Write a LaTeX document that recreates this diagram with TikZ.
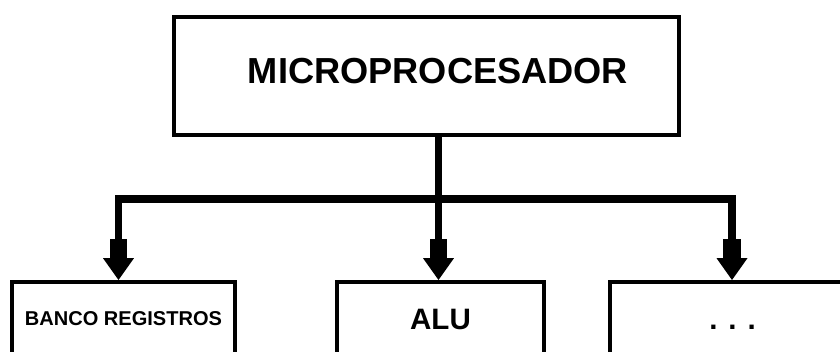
\documentclass[tikz,border=0pt]{standalone}
\usepackage{fontspec}
\setmainfont{Liberation Sans}
\usetikzlibrary{arrows.meta}

\begin{document}
\begin{tikzpicture}[
    caja/.style={draw,line width=1.15pt,inner sep=0pt,minimum height=0.74cm},
    bus/.style={line width=2pt},
    punta/.style={-{Rectangle[length=5.4pt,width=4.9pt,sep=0pt,line width=0pt]Triangle[length=6.2pt,width=8.8pt,line width=0pt]}},
    puntas/.style={{Triangle[length=6.2pt,width=8.8pt,line width=0pt]Rectangle[length=5.4pt,width=4.9pt,sep=0pt,line width=0pt]}-{Rectangle[length=5.4pt,width=4.9pt,sep=0pt,line width=0pt]Triangle[length=6.2pt,width=8.8pt,line width=0pt]}}
  ]
  \useasboundingbox (0,0) rectangle (8.4,3.51);
  \node[caja,minimum width=5.05cm,minimum height=1.18cm] (micro) at (4.265,2.75){};
  \node[font=\bfseries\fontsize{10.3}{12}\selectfont] (tmicro) at (4.38,2.795){MICROPROCESADOR};
  \node[caja,minimum width=2.23cm,font=\bfseries\fontsize{5.7}{7}\selectfont] (banco) at (1.235,0.32){BANCO REGISTROS};
  \node[caja,minimum width=2.07cm,font=\bfseries\fontsize{8.4}{10}\selectfont] (alu) at (4.405,0.32){ALU};
  \node[caja,minimum width=2.45cm,font=\bfseries\fontsize{8.4}{10}\selectfont] (otros) at (7.325,0.32){\vphantom{A}. . .};
  \coordinate (bi) at (1.185,1.52);
  \coordinate (bc) at (4.385,1.52);
  \coordinate (bd) at (7.32,1.52);
  \draw[bus,punta] (micro.south -| bc) -- (alu.north -| bc);
  \draw[bus,puntas] (banco.north -| bi) -- (bi) -- (bd) -- (otros.north -| bd);
\end{tikzpicture}
\end{document}
